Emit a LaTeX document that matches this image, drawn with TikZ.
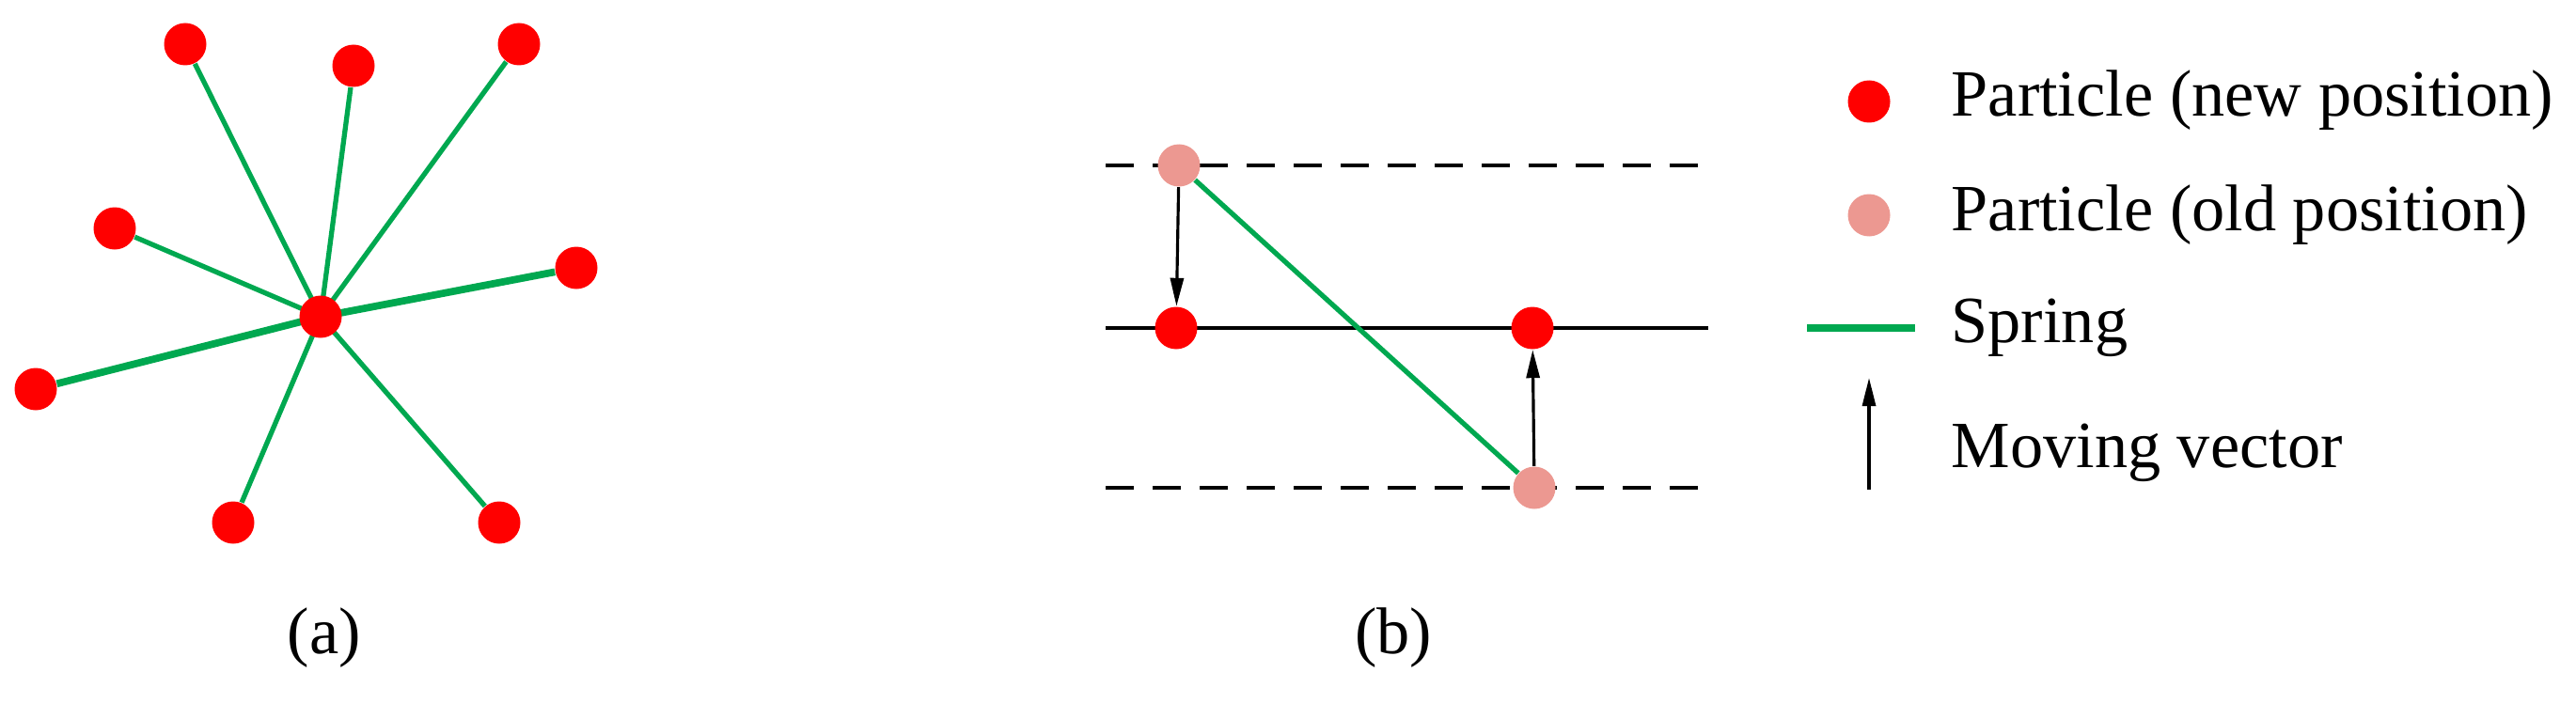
\documentclass[tikz,border=0pt]{standalone}
\usepackage{fontspec}
\setmainfont{Liberation Serif}
\usetikzlibrary{arrows.meta}
\begin{document}
\begin{tikzpicture}
\tikzset{
 newp/.style={circle,fill={rgb,255:red,255;green,0;blue,0},minimum size=0.45cm,inner sep=0pt},
 oldp/.style={circle,fill={rgb,255:red,236;green,152;blue,145},minimum size=0.45cm,inner sep=0pt},
 spring/.style={draw={rgb,255:red,0;green,168;blue,80},line width=1.5pt},
 thick spring/.style={spring,line width=2.2pt},
 mv/.style={draw=black,line width=0.9pt,-{Triangle[length=0.3cm,width=0.14cm]}},
 lbl/.style={font=\fontsize{20}{24}\selectfont,inner sep=0pt},
}
\useasboundingbox (0,0) rectangle (27.4,7.47);
% panel a
\coordinate (c) at (3.41,4.10);
\foreach \n/\p in {o1/{1.97,7.00},o2/{3.76,6.77},o3/{5.52,7.00},o4/{1.22,5.04},o5/{6.13,4.62},o6/{0.38,3.33},o7/{2.48,1.91},o8/{5.31,1.91}}
  \node[newp] (\n) at (\p) {};
\foreach \n in {o1,o2,o3,o4,o7,o8} \draw[spring] (c) -- (\n);
\foreach \n in {o5,o6} \draw[thick spring] (c) -- (\n);
\node[newp] (ctr) at (c) {};
\node[lbl] (la) at (3.45,0.68) {(a)};
% panel b
\coordinate (t1) at (11.76,5.71); \coordinate (t2) at (18.17,5.71);
\coordinate (m1) at (11.76,3.98); \coordinate (m2) at (18.17,3.98);
\coordinate (b1) at (11.76,2.28); \coordinate (b2) at (18.17,2.28);
\draw[line width=0.9pt,dash pattern=on 0.3cm off 0.2cm] (t1) -- (t2);
\draw[line width=0.9pt,dash pattern=on 0.3cm off 0.2cm] (b1) -- (b2);
\draw[line width=0.9pt] (m1) -- (m2);
\node[oldp] (ot) at (12.54,5.71) {};
\node[oldp] (ob) at (16.32,2.28) {};
\draw[spring] (ot) -- (ob);
\node[newp] (nl) at (12.51,3.98) {};
\node[newp] (nr) at (16.30,3.98) {};
\draw[mv] (ot) -- (nl);
\draw[mv] (ob) -- (nr);
\node[lbl] (lb) at (14.82,0.68) {(b)};
% legend
\node[newp] (g1) at (19.88,6.39) {};
\node[oldp] (g2) at (19.88,5.18) {};
\coordinate (s1) at (19.22,3.98); \coordinate (s2) at (20.37,3.98);
\draw[spring,line width=2pt] (s1) -- (s2);
\coordinate (a1) at (19.88,2.26); \coordinate (a2) at (19.88,3.45);
\draw[mv] (a1) -- (a2);
\node[lbl,anchor=west] (t1l) at (20.75,6.40) {Particle (new position)};
\node[lbl,anchor=west] (t2l) at (20.75,5.18) {Particle (old position)};
\node[lbl,anchor=west] (t3l) at (20.75,3.98) {Spring};
\node[lbl,anchor=west] (t4l) at (20.75,2.65) {Moving vector};
\end{tikzpicture}
\end{document}
